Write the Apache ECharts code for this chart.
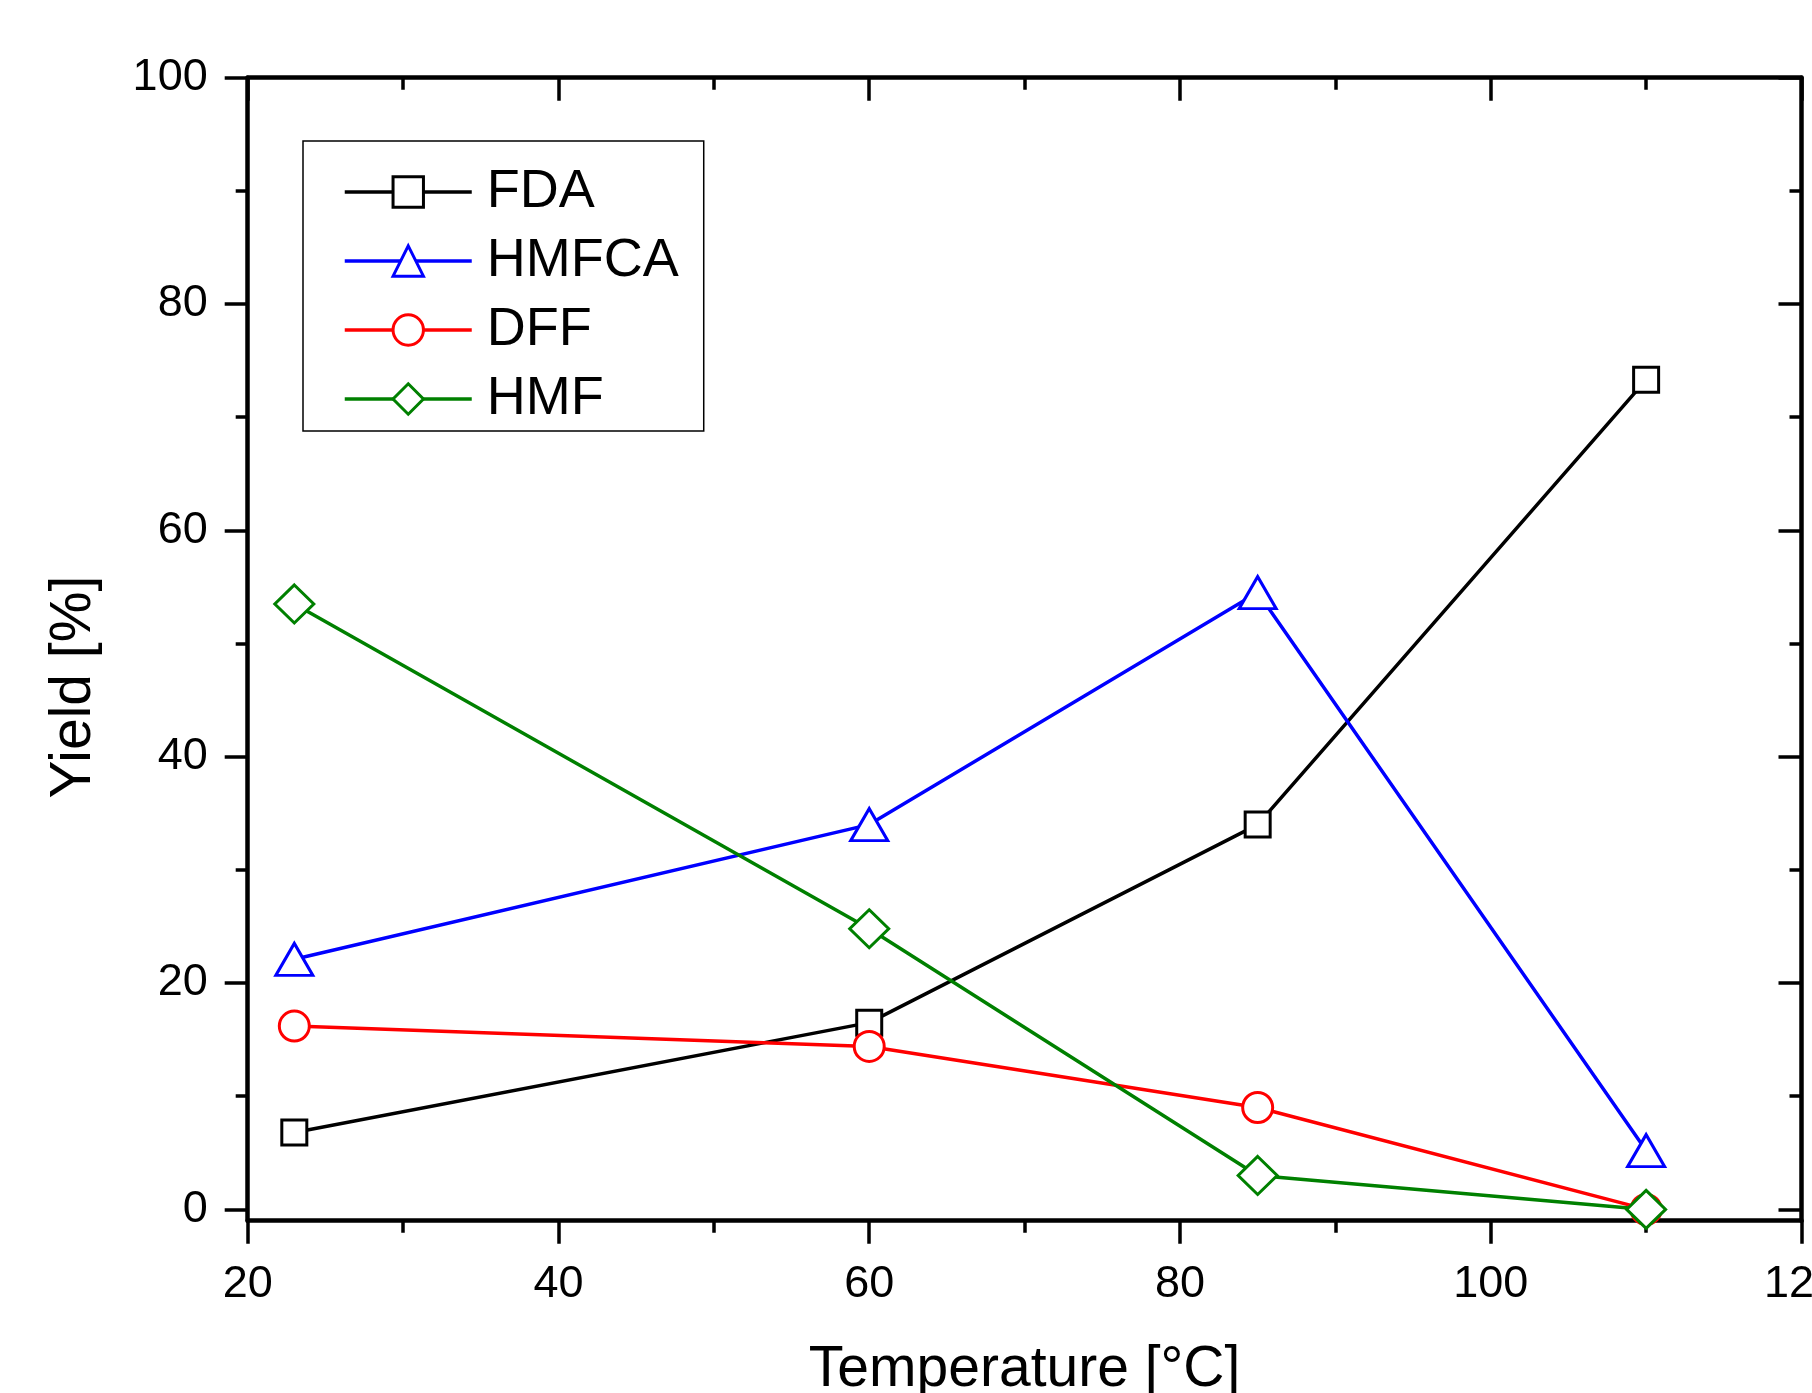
<!DOCTYPE html>
<html>
<head>
<meta charset="utf-8">
<script src="https://cdn.jsdelivr.net/npm/echarts@6/dist/echarts.min.js"></script>
<style>
html,body{margin:0;padding:0;background:#fff;}
#chart{width:1812px;height:1393px;}
</style>
</head>
<body>
<div id="chart"></div>
<script>
// ---- data ----
const temperatures = [23, 60, 85, 110];
const fdaYield   = [6.8, 16.5, 34.0, 73.3];
const hmfcaYield = [22.1, 34.0, 54.5, 5.2];
const dffYield   = [16.2, 14.4, 9.0, 0];
const hmfYield   = [53.5, 24.8, 3.0, 0];
const seriesNames = ['FDA', 'HMFCA', 'DFF', 'HMF'];
const yMajorTicks = [0, 20, 40, 60, 80, 100];
const yMinorTicks = [10, 30, 50, 70, 90];

const FONT = '"Liberation Sans", Arial, sans-serif';
const pairs = arr => temperatures.map((t, i) => [t, arr[i]]);

function xAxisDef(pos, showLabel) {
  return {
    type: 'value', position: pos, min: 20, max: 120, interval: 20,
    axisLine: { show: true, onZero: false, lineStyle: { color: '#000', width: 4.5 } },
    axisTick: { show: true, inside: pos === 'top', length: 23, lineStyle: { color: '#000', width: 3.5 } },
    minorTick: { show: true, splitNumber: 2, length: 12, lineStyle: { color: '#000', width: 3.5 } },
    splitLine: { show: false }, minorSplitLine: { show: false },
    axisLabel: { show: showLabel, fontSize: 45, color: '#000', fontFamily: FONT, margin: 41 },
    name: showLabel ? 'Temperature [°C]' : '',
    nameLocation: 'middle', nameGap: 121,
    nameTextStyle: { fontSize: 57, color: '#000', fontFamily: FONT }
  };
}
function yAxisDef(pos, ticks, len, showLine, showLabel) {
  return {
    type: 'value', position: pos, min: -1, max: 100,
    axisLine: { show: showLine, onZero: false, lineStyle: { color: '#000', width: 4.5 } },
    axisTick: { show: true, inside: pos === 'right', length: len, customValues: ticks, lineStyle: { color: '#000', width: 3.5 } },
    splitLine: { show: false },
    axisLabel: { show: showLabel, customValues: ticks, fontSize: 45, color: '#000', fontFamily: FONT, margin: 40 },
    name: showLabel ? 'Yield [%]' : '',
    nameLocation: 'middle', nameGap: 145, nameRotate: 90,
    nameTextStyle: { fontSize: 57, color: '#000', fontFamily: FONT, padding: [0, 76, 0, 0] }
  };
}
function lineSeries(name, data, color, symbol, size) {
  return {
    name: name, type: 'line', data: pairs(data), xAxisIndex: 0, yAxisIndex: 0,
    symbol: symbol, symbolSize: size, showAllSymbol: true,
    lineStyle: { color: color, width: 3.5 },
    itemStyle: { color: '#fff', borderColor: color, borderWidth: 3 },
    emphasis: { disabled: true }, z: 3
  };
}

const chart = echarts.init(document.getElementById('chart'), null, { renderer: 'canvas' });
chart.setOption({
  animation: false,
  backgroundColor: '#fff',
  grid: { left: 247.7, top: 77.7, right: 10.5, bottom: 172.3, containLabel: false, outerBoundsMode: 'none' },
  legend: {
    orient: 'vertical', left: 303, top: 141,
    padding: [24, 25, 5, 40],
    itemWidth: 127, itemHeight: 38, itemGap: 15,
    borderColor: '#000', borderWidth: 1.5,
    selectedMode: false,
    lineStyle: { width: 3.5 },
    itemStyle: { borderWidth: 3 },
    textStyle: { fontSize: 54, color: '#000', fontFamily: FONT, padding: [0, 0, 0, 10] },
    data: seriesNames
  },
  xAxis: [xAxisDef('bottom', true), xAxisDef('top', false)],
  yAxis: [
    yAxisDef('left', yMajorTicks, 23, true, true),
    yAxisDef('left', yMinorTicks, 12, false, false),
    yAxisDef('right', yMajorTicks, 23, true, false),
    yAxisDef('right', yMinorTicks, 12, false, false)
  ],
  series: [
    lineSeries(seriesNames[0], fdaYield, '#000000', 'rect', 25),
    lineSeries(seriesNames[1], hmfcaYield, '#0000ff', 'triangle', [37, 32]),
    lineSeries(seriesNames[2], dffYield, '#ff0000', 'circle', 30),
    lineSeries(seriesNames[3], hmfYield, '#008000', 'diamond', [39, 38])
  ]
});
</script>
</body>
</html>
